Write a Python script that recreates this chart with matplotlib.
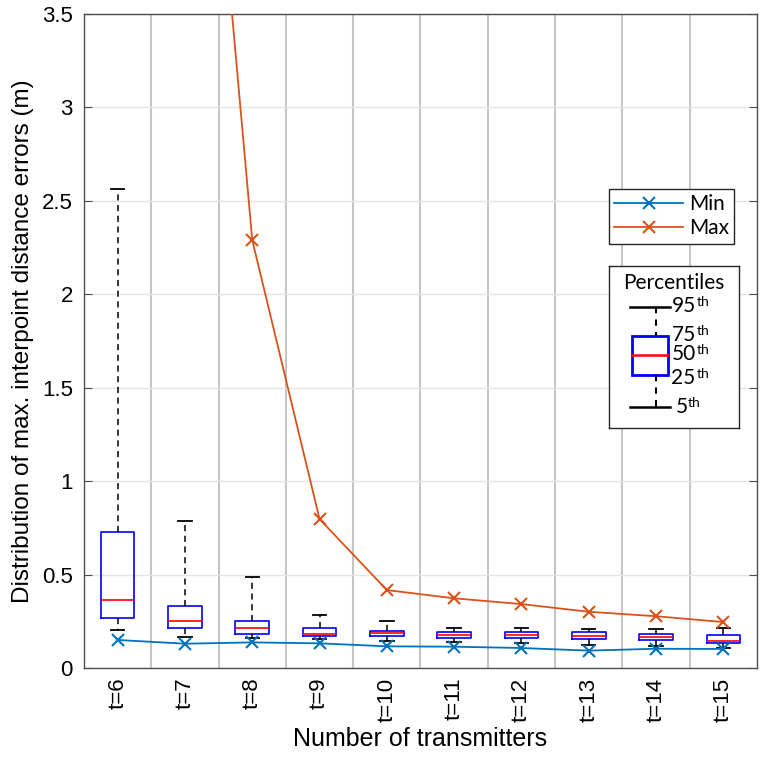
import numpy as np
import matplotlib
matplotlib.use('Agg')
import matplotlib.pyplot as plt

plt.rcParams['font.family'] = ['Liberation Sans', 'DejaVu Sans']

# number of transmitters
t_vals = [6, 7, 8, 9, 10, 11, 12, 13, 14, 15]
t_labels = ['t=%d' % t for t in t_vals]

# percentiles of max. interpoint distance error (m)
p5 = [0.203, 0.164, 0.162, 0.153, 0.143, 0.137, 0.132, 0.123, 0.116, 0.105]
p25 = [0.266, 0.214, 0.180, 0.173, 0.170, 0.160, 0.159, 0.153, 0.150, 0.134]
p50 = [0.366, 0.250, 0.214, 0.184, 0.186, 0.178, 0.176, 0.173, 0.168, 0.144]
p75 = [0.729, 0.333, 0.253, 0.216, 0.200, 0.194, 0.194, 0.193, 0.184, 0.177]
p95 = [2.565, 0.788, 0.489, 0.282, 0.250, 0.212, 0.212, 0.210, 0.210, 0.214]

err_min = [0.150, 0.130, 0.137, 0.132, 0.116, 0.114, 0.107, 0.093, 0.103, 0.102]
err_max = [9.50, 6.32, 2.29, 0.797, 0.417, 0.373, 0.342, 0.301, 0.277, 0.246]

c_min = '#0072BD'
c_max = '#D95319'

fig = plt.figure(figsize=(7.63, 7.65), dpi=100)
ax = fig.add_axes([84/763, 1 - 668/765, (757-84)/763, (668-14)/765])

stats = []
for i in range(len(t_vals)):
    stats.append({'whislo': p5[i], 'q1': p25[i], 'med': p50[i],
                  'q3': p75[i], 'whishi': p95[i], 'fliers': []})

ax.bxp(stats, positions=t_vals, widths=0.5, capwidths=0.2,
       showfliers=False, patch_artist=False,
       boxprops=dict(color='#0000FF', linewidth=1.2),
       medianprops=dict(color='#FF0000', linewidth=1.2),
       whiskerprops=dict(color='black', linewidth=1.1, linestyle=(0, (4, 3))),
       capprops=dict(color='black', linewidth=1.3))

l1, = ax.plot(t_vals, err_min, '-x', color=c_min, lw=1.3, ms=9, mew=1.5,
              label='Min', zorder=4)
l2, = ax.plot(t_vals, err_max, '-x', color=c_max, lw=1.3, ms=9, mew=1.5,
              label='Max', zorder=4)

# separators between the groups
for t in t_vals[:-1]:
    ax.axvline(t + 0.5, color='#c4c4c4', lw=1.5, zorder=0)

ax.set_xlim(5.5, 15.5)
ax.set_ylim(0, 3.5)
yt = np.arange(0, 3.51, 0.5)
ax.set_yticks(yt)
ax.set_yticklabels(['%g' % v for v in yt], fontsize=16)
ax.yaxis.grid(True, color='#e4e4e4', lw=1.0, zorder=0)
ax.set_axisbelow(True)
ax.tick_params(axis='y', direction='in', length=6, color='#4d4d4d',
               right=True, pad=8)
ax.set_xticks(t_vals)
ax.set_xticklabels(t_labels, rotation=90, fontsize=16)
ax.tick_params(axis='x', length=0, pad=7)
for s in ax.spines.values():
    s.set_color('#4d4d4d')
    s.set_linewidth(1.0)

ax.set_xlabel('Number of transmitters', fontsize=18)
ax.set_ylabel('Distribution of max. interpoint distance errors (m)',
              fontsize=17.5)
ax.xaxis.set_label_coords(0.5, -0.090)
ax.yaxis.set_label_coords(-0.074, 0.5)

leg = ax.legend(handles=[l1, l2], loc='upper left',
                bbox_to_anchor=(609/763, 1 - 189/765),
                bbox_transform=fig.transFigure, borderaxespad=0,
                fancybox=False, edgecolor='#262626', framealpha=1,
                prop={'family': 'Lato', 'size': 15}, handlelength=3.3,
                handletextpad=0.3, borderpad=0.25, labelspacing=0.2)
leg.get_frame().set_linewidth(1.0)

# percentile key
lax = fig.add_axes([609/763, 1 - 428/765, 130/763, 162/765])
lax.set_xlim(0, 1)
lax.set_ylim(1, 0)
lax.set_xticks([])
lax.set_yticks([])
for s in lax.spines.values():
    s.set_color('#262626')
    s.set_linewidth(1.0)
lfont = dict(family='Lato', size=15)
lax.text(0.5, 0.105, 'Percentiles', ha='center', va='center', **lfont)
cx = 0.36
lax.plot([0.16, 0.47], [0.25, 0.25], color='black', lw=1.8)
lax.plot([0.16, 0.47], [0.87, 0.87], color='black', lw=1.8)
lax.plot([cx, cx], [0.25, 0.43], color='black', lw=1.5, ls=(0, (3, 3)))
lax.plot([cx, cx], [0.67, 0.87], color='black', lw=1.5, ls=(0, (3, 3)))
lax.add_patch(plt.Rectangle((0.18, 0.43), 0.27, 0.24, fill=False,
                            edgecolor='#0000FF', lw=2.0))
lax.plot([0.18, 0.45], [0.55, 0.55], color='#FF0000', lw=1.8)
for num, yy, xx in [('95', 0.25, 0.48), ('75', 0.425, 0.48),
                    ('50', 0.545, 0.48), ('25', 0.69, 0.48),
                    ('5', 0.87, 0.51)]:
    tx = lax.text(xx, yy, num, ha='left', va='center', **lfont)
    lax.annotate('th', xy=(1, 1), xycoords=tx, xytext=(0.5, 0),
                 textcoords='offset points', ha='left', va='top',
                 family='Lato', size=10)

fig.savefig('out.png', dpi=100)
